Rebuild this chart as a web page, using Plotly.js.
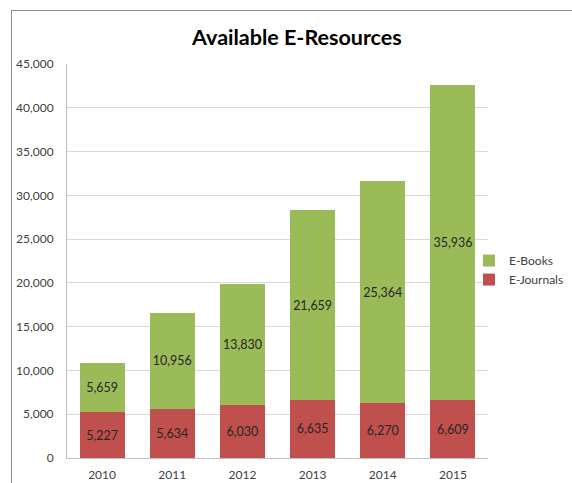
<!DOCTYPE html>
<html>
<head>
<meta charset="utf-8">
<script src="https://cdn.plot.ly/plotly-3.0.1.min.js"></script>
<style>
html,body{margin:0;padding:0;background:#fff;overflow:hidden;}
#wrap{position:relative;width:572px;height:483px;}
#chart{position:absolute;left:0;top:0;width:572px;height:483px;}
#frame{position:absolute;left:11px;top:10px;width:620px;height:520px;border:1px solid #8c8c8c;pointer-events:none;}
</style>
</head>
<body>
<div id="wrap"><div id="chart"></div><div id="frame"></div></div>
<script>
const years = ["2010","2011","2012","2013","2014","2015"];
const eJournals = [5227, 5634, 6030, 6635, 6270, 6609];
const eBooks = [5659, 10956, 13830, 21659, 25364, 35936];
const yTicks = [0,5000,10000,15000,20000,25000,30000,35000,40000,45000];

const font = "Lato, 'Open Sans', sans-serif";
const traces = [
  {type:'bar', name:'E-Journals', x:years, y:eJournals, marker:{color:'#C0504D'},
   texttemplate:'%{y:,}', textposition:'inside', insidetextanchor:'middle', textangle:0,
   textfont:{family:font, size:12.5, color:'#262626'}, width:0.64},
  {type:'bar', name:'E-Books', x:years, y:eBooks, marker:{color:'#9BBB59'},
   texttemplate:'%{y:,}', textposition:'inside', insidetextanchor:'middle', textangle:0,
   textfont:{family:font, size:12.5, color:'#262626'}, width:0.64}
];
const layout = {
  width:572, height:483,
  margin:{l:67, r:0, t:64, b:25},
  barmode:'stack',
  paper_bgcolor:'rgba(0,0,0,0)', plot_bgcolor:'#fff',
  font:{family:font, size:12, color:'#404040'},
  title:{text:'<b>Available E-Resources</b>', font:{family:font, size:21.5, color:'#000'},
         x:0.519, xref:'container', y:0.923, yref:'container', yanchor:'middle'},
  xaxis:{type:'category', domain:[0, 0.8337], showgrid:false, showline:true, linecolor:'#bfbfbf', linewidth:1,
         ticks:'outside', ticklen:6, tickcolor:'rgba(0,0,0,0)', tickfont:{family:font, size:12, color:'#404040'}},
  yaxis:{range:[0,45000], tickvals:yTicks, tickformat:',', showgrid:true, gridcolor:'#d9d9d9',
         showline:true, linecolor:'#bfbfbf', linewidth:1, zeroline:false,
         ticks:'outside', ticklen:10, tickcolor:'rgba(0,0,0,0)', tickfont:{family:font, size:12, color:'#404040'}},
  legend:{x:0.796, y:0.477, xanchor:'left', yanchor:'middle', traceorder:'reversed',
          bgcolor:'rgba(0,0,0,0)',
          font:{family:font, size:12, color:'#404040'}, itemwidth:30, tracegroupgap:8},
  showlegend:true
};
Plotly.newPlot('chart', traces, layout, {displayModeBar:false, staticPlot:true});
</script>
</body>
</html>
